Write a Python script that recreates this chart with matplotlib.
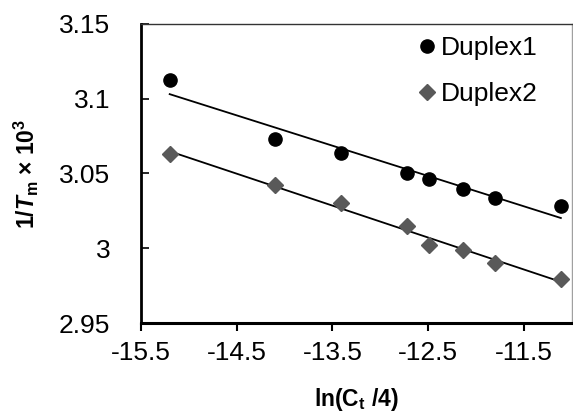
import numpy as np
import matplotlib.pyplot as plt

plt.rcParams['font.family'] = ['Liberation Sans', 'DejaVu Sans']
plt.rcParams['mathtext.fontset'] = 'custom'
plt.rcParams['mathtext.rm'] = 'Liberation Sans'
plt.rcParams['mathtext.bf'] = 'Liberation Sans:bold'
plt.rcParams['mathtext.it'] = 'Liberation Sans:italic:bold'

# data
x_d1 = [-15.20, -14.10, -13.41, -12.72, -12.49, -12.14, -11.80, -11.115]
y_d1 = [3.1125, 3.073, 3.0635, 3.0503, 3.0463, 3.0396, 3.0335, 3.028]
x_d2 = [-15.20, -14.10, -13.41, -12.72, -12.49, -12.14, -11.80, -11.115]
y_d2 = [3.063, 3.0423, 3.0302, 3.0149, 3.0022, 2.9988, 2.990, 2.9794]

gray = '#595959'

fig = plt.figure(figsize=(5.73, 4.18), dpi=100)
ax = fig.add_axes([0.246, 0.227, 0.752, 0.716])

ax.plot(x_d1, y_d1, 'o', color='black', ms=9.5, label='Duplex1', zorder=3)
ax.plot(x_d2, y_d2, 'D', color=gray, ms=8, label='Duplex2', zorder=3)

# linear trendlines
for xs, ys in [(x_d1, y_d1), (x_d2, y_d2)]:
    k, b = np.polyfit(xs, ys, 1)
    xx = np.array([min(xs), max(xs)])
    ax.plot(xx, k * xx + b, color='black', lw=1.3, zorder=2)

ax.set_xlim(-15.5, -11.0)
ax.set_ylim(2.95, 3.15)
ax.set_xticks([-15.5, -14.5, -13.5, -12.5, -11.5])
ax.set_xticklabels(['-15.5', '-14.5', '-13.5', '-12.5', '-11.5'])
ax.set_yticks([2.95, 3.0, 3.05, 3.1, 3.15])
ax.set_yticklabels(['2.95', '3', '3.05', '3.1', '3.15'])

ax.tick_params(axis='x', direction='out', length=6, width=1.5, labelsize=19, pad=7)
ax.tick_params(axis='y', direction='in', length=6, width=1.2, labelsize=19, pad=22)

ax.spines['left'].set_linewidth(2)
ax.spines['bottom'].set_linewidth(2.2)
ax.spines['top'].set_linewidth(1)
ax.spines['top'].set_color('#333333')
ax.spines['right'].set_linewidth(1)
ax.spines['right'].set_color('#a0a0a0')

ax.set_xlabel(r'ln(C$_{\mathbf{t}}$ /4)', fontsize=16.5, fontweight='bold', labelpad=15)
ax.set_ylabel(r'1/$\mathit{T}_{\mathbf{m}}$ × 10$^{\mathbf{3}}$', fontsize=16.5,
              fontweight='bold', labelpad=13)

ax.legend(loc='upper left', frameon=False, fontsize=19, handlelength=0.6,
          handletextpad=0.25, labelspacing=0.85, markerscale=1.0,
          borderaxespad=0, borderpad=0, bbox_to_anchor=(0.645, 0.96))

fig.savefig('out.png', dpi=100)
